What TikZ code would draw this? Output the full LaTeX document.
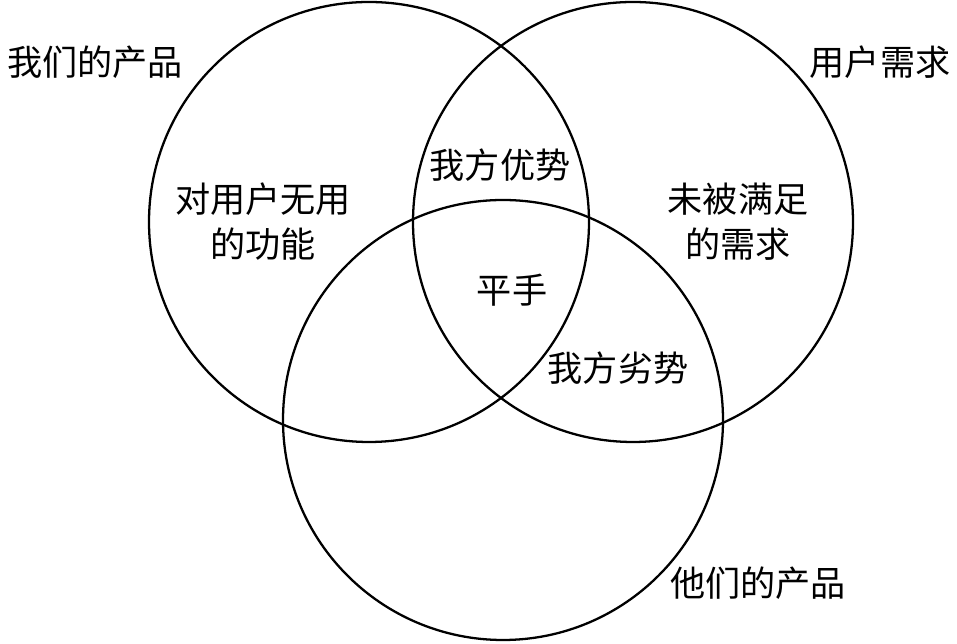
\documentclass[tikz,border=0pt]{standalone}
\usepackage{fontspec}
\newfontfamily\cjk{Noto Sans CJK SC}
\tikzset{%
        setcircle/.style={
                circle,
                draw,
                line width=1.3pt,
                minimum size=8.8cm,
                inner sep=0pt
            },
        label/.style={
                font=\cjk\fontsize{20pt}{25.6pt}\selectfont,
                align=center,
                inner sep=0pt
            }
    }
\begin{document}
\begin{tikzpicture}
    \useasboundingbox (0,0) rectangle (19.14,12.88);

    % circles:
        \node [setcircle]  (ours) at (7.38,8.44) {};
        \node [setcircle]  (need) at (12.66,8.44) {};
        \node [setcircle]  (theirs) at (10.06,4.48) {};

    % labels:
        \node [label]  (ourslbl) at (1.90,11.64) {我们的产品};
        \node [label]  (needlbl) at (17.60,11.64) {用户需求};
        \node [label]  (theirslbl) at (15.16,1.22) {他们的产品};
        \node [label]  (useless) at (5.26,8.44) {对用户无用\\的功能};
        \node [label]  (unmet) at (14.76,8.44) {未被满足\\的需求};
        \node [label]  (adv) at (10.00,9.58) {我方优势};
        \node [label]  (tie) at (10.24,7.08) {平手};
        \node [label]  (disadv) at (12.36,5.52) {我方劣势};
\end{tikzpicture}
\end{document}
